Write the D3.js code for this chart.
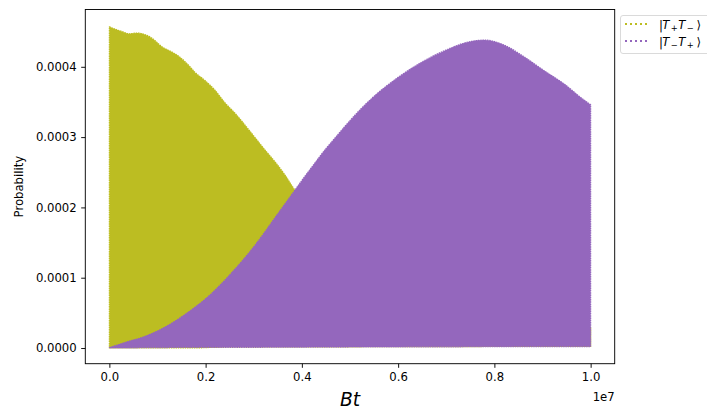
<!DOCTYPE html>
<html>
<head>
<meta charset="utf-8">
<script src="https://cdn.jsdelivr.net/npm/d3@7"></script>
<style>
  html, body { margin: 0; padding: 0; background: #fff; }
  svg { display: block; }
  text { font-family: "DejaVu Sans", sans-serif; fill: #000; }
</style>
</head>
<body>
<svg id="chart" width="707" height="412"></svg>
<script>
// Bt values are given in units of the axis offset (1e7).
const btScale = 1e7;

// |T+T-> : upper and lower envelopes of the fast oscillation
const oliveBt    = [0, 0.01, 0.027, 0.042, 0.058, 0.077, 0.09, 0.11, 0.13, 0.146, 0.165, 0.178, 0.198, 0.219, 0.24, 0.261, 0.282, 0.303, 0.323, 0.344, 0.365, 0.383, 0.42, 0.47, 0.55, 0.65, 0.75, 0.85, 1.0];
const oliveUpper = [0.000457, 0.000454, 0.000450, 0.000447, 0.000448, 0.000445, 0.000440, 0.000428, 0.000421, 0.000414, 0.000402, 0.000392, 0.000381, 0.000367, 0.000349, 0.000334, 0.000317, 0.000299, 0.000282, 0.000265, 0.000246, 0.000227, 0.000195, 0.000150, 0.000090, 0.000035, 0.000008, 0.000005, 0.000030];
const oliveLower = [0, 0, 0, 0, 0, 0, 0, 0, 0, 0, 0, 0, 0.0000005, 0.000001, 0.0000015, 0.0000015, 0.0000015, 0.0000015, 0.0000015, 0.0000015, 0.0000015, 0.0000015, 0.0000015, 0.0000017, 0.0000018, 0.000002, 0.0000021, 0.0000022, 0.0000022];

// |T-T+> : upper and lower envelopes
const purpleBt    = [0, 0.035, 0.07, 0.104, 0.14, 0.17, 0.2, 0.25, 0.3, 0.35, 0.386, 0.406, 0.427, 0.448, 0.468, 0.489, 0.521, 0.55, 0.6, 0.65, 0.7, 0.75, 0.78, 0.82, 0.86, 0.9, 0.95, 0.98, 1.0];
const purpleUpper = [0.0000005, 0.0000085, 0.0000156, 0.0000256, 0.0000398, 0.000054, 0.000070, 0.000104, 0.000144, 0.000191, 0.000225, 0.000244, 0.000263, 0.000282, 0.000298, 0.000315, 0.000339, 0.000358, 0.000385, 0.000407, 0.000424, 0.000436, 0.000438, 0.000431, 0.000415, 0.000396, 0.000373, 0.000356, 0.000346];
const purpleLower = [0, 0.0000002, 0.0000004, 0.0000006, 0.0000008, 0.000001, 0.000001, 0.000001, 0.000001, 0.0000012, 0.0000012, 0.0000012, 0.0000013, 0.0000013, 0.0000014, 0.0000014, 0.0000015, 0.0000015, 0.0000016, 0.0000017, 0.0000017, 0.0000018, 0.0000018, 0.0000019, 0.000002, 0.000002, 0.000002, 0.000002, 0.000002];

const xTickValues = [0, 0.2, 0.4, 0.6, 0.8, 1.0];
const xTickLabels = ["0.0", "0.2", "0.4", "0.6", "0.8", "1.0"];
const yTickValues = [0, 0.0001, 0.0002, 0.0003, 0.0004];
const yTickLabels = ["0.0000", "0.0001", "0.0002", "0.0003", "0.0004"];

const seriesNames  = ["|T+T−⟩", "|T−T+⟩"];
const seriesColors = ["#bcbd22", "#9467bd"];

// ---- layout
const svg = d3.select("#chart");
const plot = { left: 85.3, right: 614.7, top: 9.5, bottom: 363.7 };
const fontSize = 11.67;

const x = d3.scaleLinear().domain([-0.05 * btScale, 1.05 * btScale]).range([plot.left, plot.right]);
const y = d3.scaleLinear().domain([-0.0000223, 0.0004815]).range([plot.bottom, plot.top]);

function band(bt, lo, hi) {
  return bt.map((b, i) => ({ bt: b * btScale, lo: lo[i], hi: hi[i] }));
}

const area = d3.area()
  .curve(d3.curveMonotoneX)
  .x(d => x(d.bt))
  .y0(d => y(d.lo))
  .y1(d => y(d.hi));

const bands = [
  band(oliveBt, oliveLower, oliveUpper),
  band(purpleBt, purpleLower, purpleUpper)
];

const marks = svg.append("g");
bands.forEach((data, i) => {
  marks.append("path")
    .datum(data)
    .attr("d", area)
    .attr("fill", seriesColors[i])
    .attr("stroke", seriesColors[i])
    .attr("stroke-width", 1.2)
    .attr("stroke-dasharray", "1.5,0.8")
    .attr("stroke-linejoin", "round");
});

// ---- axes
const xAxis = d3.axisBottom(x)
  .tickValues(xTickValues.map(v => v * btScale))
  .tickFormat((d, i) => xTickLabels[i])
  .tickSize(4.1).tickPadding(4.5);
const yAxis = d3.axisLeft(y)
  .tickValues(yTickValues)
  .tickFormat((d, i) => yTickLabels[i])
  .tickSize(4.1).tickPadding(4.5);

const gx = svg.append("g").attr("transform", `translate(0,${plot.bottom})`).call(xAxis);
const gy = svg.append("g").attr("transform", `translate(${plot.left},0)`).call(yAxis);
[gx, gy].forEach(g => {
  g.select(".domain").remove();
  g.selectAll(".tick line").attr("stroke", "#000").attr("stroke-width", 0.93);
  g.selectAll(".tick text").attr("font-size", fontSize).attr("font-family", "DejaVu Sans");
});

// frame
svg.append("rect")
  .attr("x", plot.left).attr("y", plot.top)
  .attr("width", plot.right - plot.left).attr("height", plot.bottom - plot.top)
  .attr("fill", "none").attr("stroke", "#000").attr("stroke-width", 0.93);

// offset text
svg.append("text")
  .attr("x", plot.right).attr("y", 401)
  .attr("text-anchor", "end").attr("font-size", fontSize)
  .text("1e7");

// axis labels
svg.append("text")
  .attr("x", (plot.left + plot.right) / 2).attr("y", 406)
  .attr("text-anchor", "middle").attr("font-size", 18.7)
  .attr("font-style", "italic")
  .text("Bt");

svg.append("text")
  .attr("transform", `translate(23,${(plot.top + plot.bottom) / 2}) rotate(-90)`)
  .attr("text-anchor", "middle").attr("font-size", fontSize)
  .text("Probability");

// ---- legend
const legend = svg.append("g");
legend.append("rect")
  .attr("x", 620.5).attr("y", 15.5).attr("width", 92).attr("height", 38)
  .attr("rx", 2.5)
  .attr("fill", "#fff").attr("fill-opacity", 0.8)
  .attr("stroke", "#d6d6d6").attr("stroke-width", 0.9);

const rowY = [24, 41];
const kets = [["+", "−"], ["−", "+"]];
// glyph positions of the ket label, relative to its left edge
const ketX = [0, 3.2, 11.8, 19.2, 27.8, 37.5];
seriesNames.forEach((name, i) => {
  legend.append("line")
    .attr("x1", 625).attr("x2", 650)
    .attr("y1", rowY[i]).attr("y2", rowY[i])
    .attr("stroke", seriesColors[i]).attr("stroke-width", 2)
    .attr("stroke-dasharray", "2,3");
  const x0 = 659;
  const base = rowY[i] + 5.2;
  const g = legend.append("g");
  g.append("title").text(name);
  const parts = [
    { s: "|", it: false, sub: false },
    { s: "T", it: true, sub: false },
    { s: kets[i][0], it: false, sub: true },
    { s: "T", it: true, sub: false },
    { s: kets[i][1], it: false, sub: true },
    { s: "⟩", it: false, sub: false }
  ];
  parts.forEach((p, k) => {
    g.append("text")
      .attr("x", x0 + ketX[k])
      .attr("y", p.sub ? base + 1.6 : base)
      .attr("font-size", p.sub ? 8.4 : fontSize)
      .attr("font-style", p.it ? "italic" : "normal")
      .text(p.s);
  });
});
</script>
</body>
</html>
